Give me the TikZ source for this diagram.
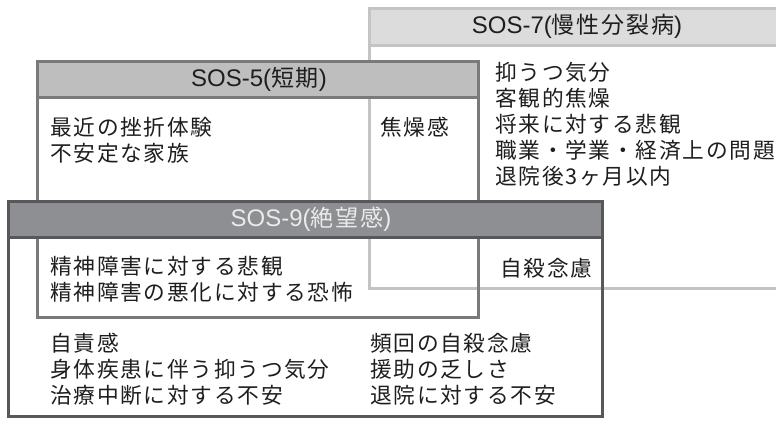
\documentclass[tikz,border=0pt]{standalone}
\usepackage{fontspec}
\newfontfamily\jp[LetterSpace=8]{Noto Sans CJK JP}
\newfontfamily\lat{Liberation Sans}
\definecolor{sevenfill}{HTML}{DCDCDC}
\definecolor{sevenline}{HTML}{C4C4C4}
\definecolor{fivefill}{HTML}{BEBEBE}
\definecolor{fiveline}{HTML}{7A7A7A}
\definecolor{ninefill}{HTML}{8E8F93}
\definecolor{nineline}{HTML}{58585A}
\definecolor{ninetext}{HTML}{EBEBEB}
\definecolor{ink}{HTML}{1E1E1E}
\newcommand\hl[1]{{\lat\fontsize{24bp}{25bp}\selectfont #1}}
\newcommand\hj[1]{{\jp\fontsize{23bp}{25bp}\selectfont #1}}
\begin{document}
\begin{tikzpicture}[x=1bp,y=-1bp,
  txt/.style={anchor=west, inner sep=0pt, text=ink, font=\jp\fontsize{21.7bp}{25bp}\selectfont},
  hdr/.style={inner sep=0pt},
  frame/.style={line width=3bp}]
\useasboundingbox (0,0) rectangle (776,420);
% SOS-7
\fill[sevenfill] (369,8.5) rectangle (790,45);
\draw[frame, sevenline] (369,8.5) rectangle (790,288);
\draw[frame, sevenline] (369,45) -- (790,45);
\node[hdr, text=ink] (h7) at (577,26) {\hl{SOS-7(}\hj{慢性分裂病}\hl{)}};
% SOS-5
\fill[fivefill] (37,61.5) rectangle (478.5,97.5);
\draw[frame, fiveline] (37,61.5) rectangle (478.5,317);
\draw[frame, fiveline] (37,97.5) -- (478.5,97.5);
\node[hdr, text=ink] (h5) at (259,79) {\hl{SOS-5(}\hj{短期}\hl{)}};
% SOS-9
\fill[ninefill] (8.5,201) rectangle (602.5,237.5);
\draw[frame, nineline] (8.5,201) rectangle (602.5,416.5);
\draw[frame, nineline] (8.5,237.5) -- (602.5,237.5);
\node[hdr, text=ninetext] (h9) at (311,219) {\hl{SOS-9(}\hj{絶望感}\hl{)}};
% SOS-7 texts
\node[txt] (s7a) at (495,72) {抑うつ気分};
\node[txt] (s7b) at (495,98) {客観的焦燥};
\node[txt] (s7c) at (495,124) {将来に対する悲観};
\node[txt] (s7d) at (495,150) {職業・学業・経済上の問題};
\node[txt] (s7e) at (495,176) {退院後3ヶ月以内};
% SOS-5 texts
\node[txt] (s5a) at (50,127) {最近の挫折体験};
\node[txt] (s5b) at (50,153) {不安定な家族};
\node[txt] (s57) at (380,127) {焦燥感};
% SOS-9 texts
\node[txt] (s59a) at (50,266) {精神障害に対する悲観};
\node[txt] (s59b) at (50,292) {精神障害の悪化に対する恐怖};
\node[txt] (s579) at (500,268) {自殺念慮};
\node[txt] (s9a) at (50,343) {自責感};
\node[txt] (s9b) at (50,369) {身体疾患に伴う抑うつ気分};
\node[txt] (s9c) at (50,395) {治療中断に対する不安};
\node[txt] (s9d) at (370,343) {頻回の自殺念慮};
\node[txt] (s9e) at (370,369) {援助の乏しさ};
\node[txt] (s9f) at (370,395) {退院に対する不安};
\end{tikzpicture}
\end{document}
